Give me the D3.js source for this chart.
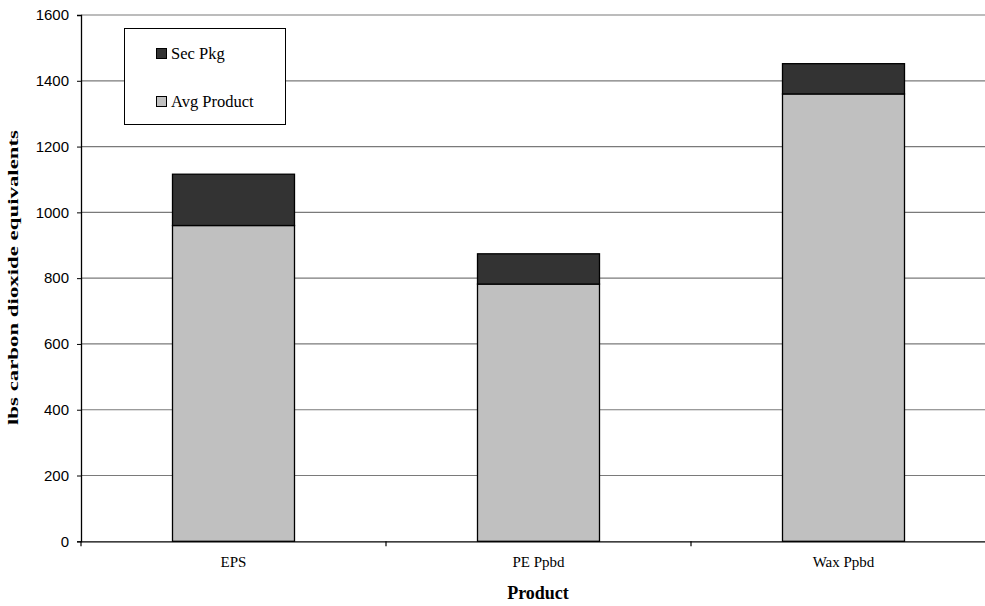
<!DOCTYPE html>
<html><head><meta charset="utf-8">
<script src="https://cdn.jsdelivr.net/npm/d3@7"></script>
<style>body{margin:0;background:#fff;overflow:hidden}svg{display:block}</style>
</head><body>
<svg id="c" width="985" height="606"></svg>
<script>
const categories = ["EPS", "PE Ppbd", "Wax Ppbd"];
const avgProduct = [960, 782, 1360];
const secPkg = [156, 92, 92];
const seriesNames = ["Avg Product", "Sec Pkg"];
const seriesColors = ["#c0c0c0", "#333333"];
const yTicks = [0, 200, 400, 600, 800, 1000, 1200, 1400, 1600];

const serif = "'Times New Roman', 'Liberation Serif', serif";
const sans = "Arial, 'Liberation Sans', sans-serif";
const svg = d3.select("#c");
const L = 81, R = 996, T = 15, B = 541.3;
const x = d3.scaleBand().domain(categories).range([L, R]).paddingInner(0.6).paddingOuter(0.3);
const y = d3.scaleLinear().domain([0, 1600]).range([B, T]);

// gridlines
svg.append("g").selectAll("line").data(yTicks.filter(d => d > 0)).join("line")
  .attr("x1", L).attr("x2", R).attr("y1", d => y(d)).attr("y2", d => y(d))
  .attr("stroke", "#7a7a7a").attr("stroke-width", 1.2);

const rows = categories.map((c, i) => ({cat: c, "Avg Product": avgProduct[i], "Sec Pkg": secPkg[i]}));
const stacked = d3.stack().keys(seriesNames)(rows);
svg.append("g").selectAll("g").data(stacked).join("g")
  .attr("fill", (d, i) => seriesColors[i])
  .selectAll("rect").data(d => d).join("rect")
  .attr("x", d => x(d.data.cat)).attr("width", x.bandwidth())
  .attr("y", d => y(d[1])).attr("height", d => y(d[0]) - y(d[1]))
  .attr("stroke", "#000").attr("stroke-width", 1.3);

// y axis
const yAxis = svg.append("g").attr("transform", `translate(${L},0)`)
  .call(d3.axisLeft(y).tickValues(yTicks).tickSize(4).tickPadding(8).tickFormat(d3.format("d")));
yAxis.select(".domain").attr("stroke", "#000").attr("stroke-width", 1.3);
yAxis.selectAll(".tick line").attr("stroke", "#000");
yAxis.selectAll("text").attr("font-family", sans).attr("font-size", 15).attr("fill", "#000");

// x axis
const xAxis = svg.append("g").attr("transform", `translate(0,${B})`)
  .call(d3.axisBottom(x).tickSize(0).tickPadding(15));
xAxis.select(".domain").attr("stroke", "#000").attr("stroke-width", 1.3);
xAxis.selectAll("text").attr("font-family", serif).attr("font-size", 15).attr("fill", "#000");
// boundary ticks
svg.append("g").selectAll("line").data(d3.range(0, categories.length + 1)).join("line")
  .attr("x1", i => L + i * (R - L) / categories.length).attr("x2", i => L + i * (R - L) / categories.length)
  .attr("y1", B).attr("y2", B + 5).attr("stroke", "#000").attr("stroke-width", 1.2);

// axis titles
svg.append("text").attr("x", 538).attr("y", 599).attr("text-anchor", "middle")
  .attr("font-family", serif).attr("font-weight", "bold").attr("font-size", 18)
  .text("Product");
svg.append("text").attr("transform", `translate(18,277.5) rotate(-90)`).attr("text-anchor", "middle")
  .attr("font-family", serif).attr("font-weight", "bold").attr("font-size", 15.5)
  .attr("textLength", 295).attr("lengthAdjust", "spacingAndGlyphs")
  .text("lbs carbon dioxide equivalents");

// legend
const lg = svg.append("g");
lg.append("rect").attr("x", 124.5).attr("y", 28.5).attr("width", 161).attr("height", 96)
  .attr("fill", "#fff").attr("stroke", "#000").attr("stroke-width", 1);
const legendItems = [{name: "Sec Pkg", color: seriesColors[1], yy: 48}, {name: "Avg Product", color: seriesColors[0], yy: 96}];
legendItems.forEach(it => {
  lg.append("rect").attr("x", 156.5).attr("y", it.yy + 0.5).attr("width", 10).attr("height", 10)
    .attr("fill", it.color).attr("stroke", "#000").attr("stroke-width", 1);
  lg.append("text").attr("x", 171).attr("y", it.yy + 11.3).attr("font-family", serif)
    .attr("font-size", 16.5).text(it.name);
});
</script>
</body></html>
